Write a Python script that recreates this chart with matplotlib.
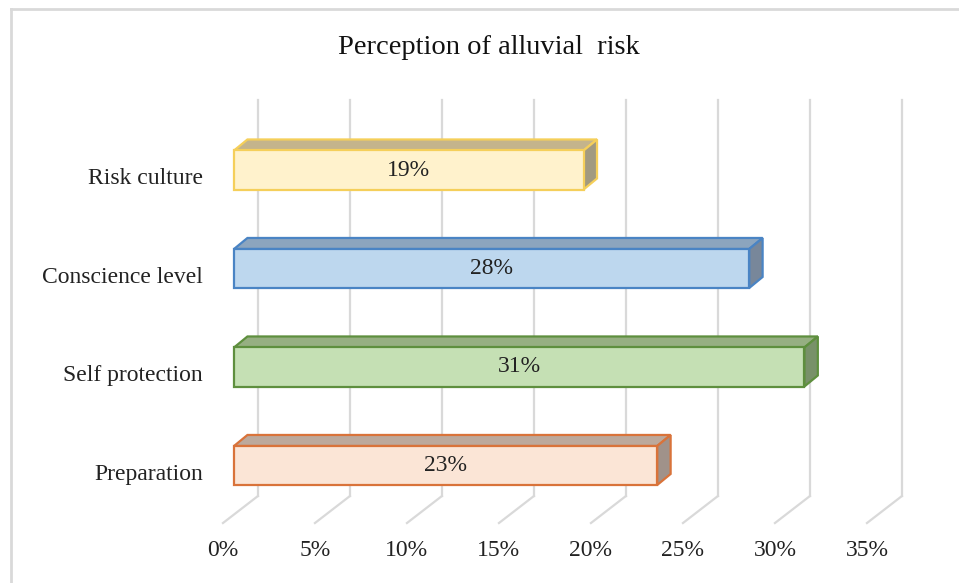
import matplotlib
matplotlib.use("Agg")
import matplotlib.pyplot as plt
from matplotlib.patches import Polygon
from matplotlib.lines import Line2D

# data (bottom to top)
categories = ['Preparation', 'Self protection', 'Conscience level', 'Risk culture']
values = [23, 31, 28, 19]
ticks = [0, 5, 10, 15, 20, 25, 30, 35]
title = 'Perception of alluvial  risk'

face_colors = ['#FBE5D6', '#C5E0B4', '#BDD7EE', '#FFF2CC']
edge_colors = ['#D9733A', '#5E8F3E', '#4A84C4', '#F5CF5A']
top_colors = ['#BCA99C', '#96AF82', '#8CA5BE', '#C4B48C']
side_colors = ['#A0928A', '#789169', '#78879A', '#A29A80']

plt.rcParams['font.family'] = ['Liberation Serif', 'DejaVu Serif']

W, H = 959, 583
fig = plt.figure(figsize=(W / 100, H / 100), dpi=100)
ax = fig.add_axes([0, 0, 1, 1])

# pixel layout of the plot: 18.4 px per percent, 98.5 px per category
x0_px, px_per_pct = 234, 18.4
y0_px, px_per_cat = 465.5, 98.5
ax.set_xlim((0 - x0_px) / px_per_pct, (W - x0_px) / px_per_pct)
ax.set_ylim((y0_px - H) / px_per_cat, y0_px / px_per_cat)
ax.axis('off')

half_h = 0.198      # half bar height (category units)
dx, dy = 0.73, 0.112  # depth offset of the 3D bars
back_dx = 1.3       # back wall shift
front_dx = -0.6     # floor front edge shift
wall_top, wall_bot, floor_front = 3.711, -0.31, -0.584
grid_c = '#D9D9D9'

# gridlines on the back wall and floor
for t in ticks:
    ax.plot([t + back_dx, t + back_dx], [wall_bot, wall_top], color=grid_c, lw=1.6, zorder=1)
    ax.plot([t + back_dx, t + front_dx], [wall_bot, floor_front], color=grid_c, lw=1.6, zorder=1)
    ax.text(t + front_dx, -0.858, f'{t}%', ha='center', va='center', fontsize=17, color='#222222')

# 3D bars
for i, (cat, v) in enumerate(zip(categories, values)):
    lo, hi = i - half_h, i + half_h
    front = Polygon([(0, lo), (v, lo), (v, hi), (0, hi)], closed=True,
                    facecolor=face_colors[i], edgecolor=edge_colors[i], lw=1.6, zorder=3)
    top = Polygon([(0, hi), (v, hi), (v + dx, hi + dy), (dx, hi + dy)], closed=True,
                  facecolor=top_colors[i], edgecolor=edge_colors[i], lw=1.6, zorder=2)
    side = Polygon([(v, lo), (v, hi), (v + dx, hi + dy), (v + dx, lo + dy)], closed=True,
                   facecolor=side_colors[i], edgecolor=edge_colors[i], lw=1.6, zorder=2)
    for p in (top, side, front):
        ax.add_patch(p)
    ax.text(v / 2, i, f'{v}%', ha='center', va='center', fontsize=17, color='#222222', zorder=4)
    ax.text(-1.685, i - 0.09, cat, ha='right', va='center', fontsize=17, color='#222222')

fig.text(489 / W, 1 - 48 / H, title, ha='center', va='center', fontsize=20.5, color='#111111')

# outer chart border (top and left visible)
fig.add_artist(Line2D([11 / W, 1], [1 - 9 / H, 1 - 9 / H], color=grid_c, lw=2))
fig.add_artist(Line2D([11 / W, 11 / W], [0, 1 - 9 / H], color=grid_c, lw=2))

fig.savefig('out.png', dpi=100)
